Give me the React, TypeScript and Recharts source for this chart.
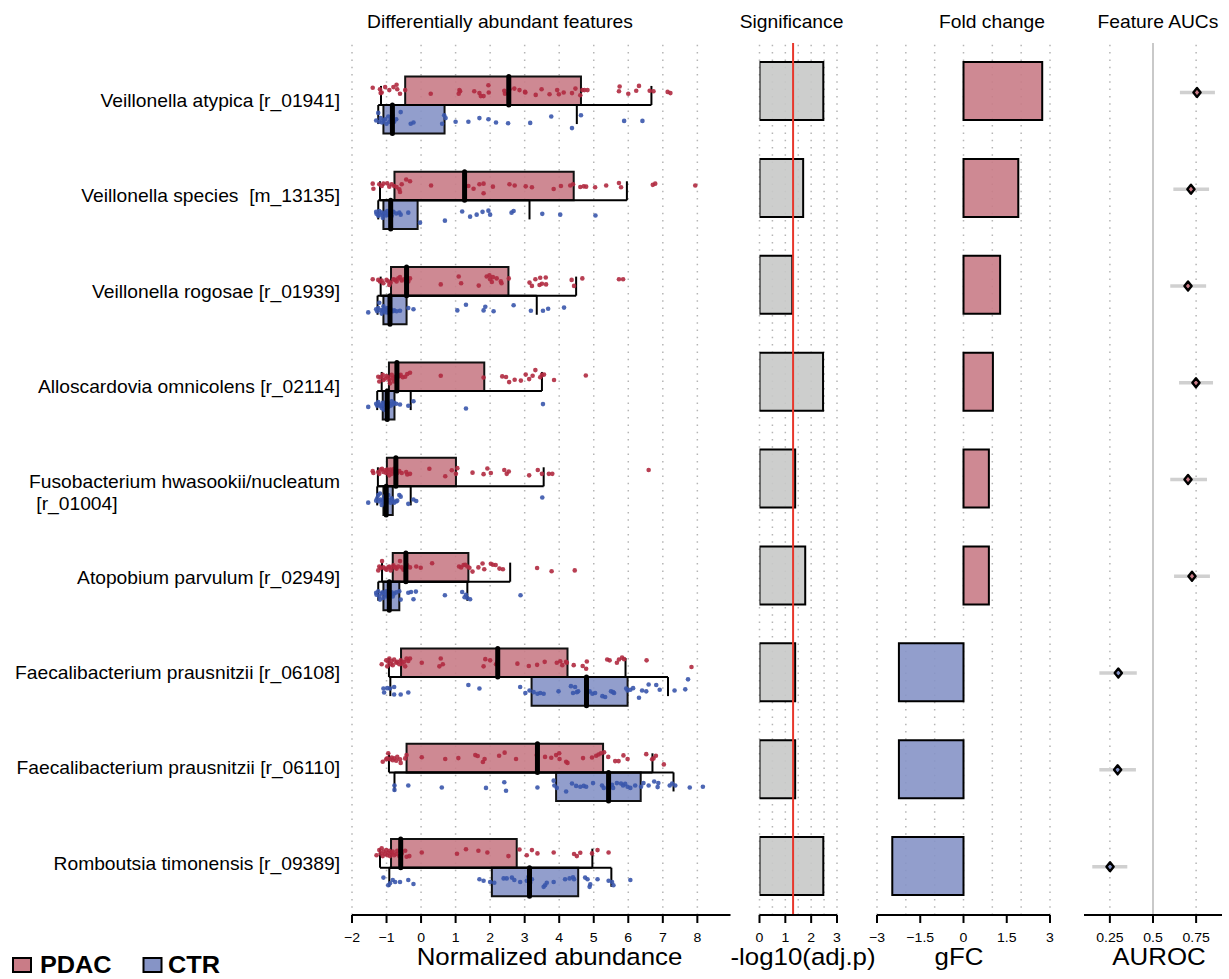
import React from 'react';
import { ScatterChart, Scatter, XAxis, YAxis, ReferenceArea, ReferenceLine, BarChart, Bar, Cell, ErrorBar } from 'recharts';

const W = 1229, H = 979;
const FONT = '"Liberation Sans", Arial, Helvetica, sans-serif';
const SX = 1.1;

const FEATURES = [
  'Veillonella atypica [r_01941]',
  'Veillonella species  [m_13135]',
  'Veillonella rogosae [r_01939]',
  'Alloscardovia omnicolens [r_02114]',
  'Fusobacterium hwasookii/nucleatum\n [r_01004]',
  'Atopobium parvulum [r_02949]',
  'Faecalibacterium prausnitzii [r_06108]',
  'Faecalibacterium prausnitzii [r_06110]',
  'Romboutsia timonensis [r_09389]',
];

// box stats: [q1, median, q3, whiskerLow, whiskerHigh]
const PDAC_BOX = [
  [-0.46, 2.54, 4.63, -1.16, 6.67],
  [-0.77, 1.26, 4.42, -1.19, 5.96],
  [-0.87, -0.42, 2.53, -1.17, 4.49],
  [-0.93, -0.70, 1.83, -1.14, 3.50],
  [-0.99, -0.73, 1.01, -1.25, 3.55],
  [-0.82, -0.44, 1.37, -1.13, 2.58],
  [-0.58, 2.22, 4.24, -0.93, 5.92],
  [-0.42, 3.37, 5.27, -0.93, 6.70],
  [-0.87, -0.59, 2.77, -1.19, 4.96],
];
const CTR_BOX = [
  [-1.09, -0.83, 0.68, -1.24, 4.51],
  [-1.09, -0.88, -0.10, -1.24, 3.14],
  [-1.09, -0.90, -0.42, -1.26, 3.35],
  [-1.11, -0.98, -0.77, -1.27, -0.30],
  [-1.09, -1.01, -0.82, -1.27, -0.30],
  [-1.09, -0.92, -0.63, -1.24, 1.34],
  [3.20, 4.79, 5.98, -0.89, 7.15],
  [3.91, 5.43, 6.36, -0.77, 7.31],
  [2.05, 3.14, 4.55, -0.92, 5.51],
];

// jittered samples: [abundance, jitter (-1..1)]
const PDAC_PTS = [
  [[-1.40,-0.5],[-1.19,-0.25],[-1.14,0.3],[-1.17,0.4],[-1.04,-0.6],[-0.92,-0.1],[-0.80,-0.6],[-0.71,-1],[-0.69,-0.25],[-0.61,0.5],[-0.46,-0.1],[0.28,0.5],[1.11,-0.1],[1.13,0.1],[1.09,0.5],[1.54,0.1],[1.69,0.4],[1.73,0.9],[1.81,0.9],[1.95,-0.9],[1.96,0.3],[2.41,0],[2.43,0.5],[2.56,-0.25],[2.70,-0.35],[2.85,-0.1],[3.01,0.2],[3.02,0.3],[3.32,0.7],[3.49,-0.25],[3.72,0.6],[3.94,-0.1],[3.99,0.6],[4.13,0.3],[4.37,0.4],[4.47,-0.35],[4.61,0.75],[4.67,-0.1],[4.73,-0.1],[4.82,-0.1],[5.75,-0.7],[5.73,0.1],[6.00,0.5],[6.23,0],[6.31,-0.8],[6.62,0],[6.73,0.1],[7.14,0.2],[7.22,0.4]],
  [[-1.40,-0.4],[-1.38,0.45],[-1.21,-0.3],[-1.14,0],[-1.09,-0.4],[-0.98,-0.45],[-0.92,0.1],[-0.85,-0.3],[-0.78,0],[-0.71,0.15],[-0.63,0.55],[-0.61,1],[-0.56,-0.3],[-0.43,-1.1],[-0.32,-0.8],[0.29,-0.1],[1.28,-0.1],[1.37,0],[1.52,0.45],[1.69,-0.3],[1.81,-0.4],[1.81,1.2],[2.08,0.1],[2.56,-0.3],[2.71,-0.1],[3.03,0.05],[3.21,0.2],[3.84,0.5],[4.05,0],[4.32,-0.1],[4.40,-0.3],[4.61,0.15],[4.71,0.05],[4.78,0.1],[5.04,0.2],[5.36,-0.1],[5.73,-0.5],[5.79,0.2],[6.71,-0.2],[6.78,-0.4],[7.94,-0.1]],
  [[-1.40,-0.35],[-1.24,-0.25],[-1.19,0],[-1.14,-0.15],[-1.09,0.3],[-1.00,-0.25],[-0.95,0],[-0.92,0.6],[-0.88,0.2],[-0.80,-0.35],[-0.75,-0.25],[-0.71,0],[-0.66,-0.5],[-0.61,-0.7],[-0.56,-0.15],[-0.49,-0.35],[-0.43,0.2],[-0.37,0],[-0.32,-0.5],[0.57,0.5],[1.09,-0.8],[1.16,0.3],[1.67,0.7],[1.90,-0.8],[1.98,-1],[2.00,-0.35],[2.08,-0.7],[2.05,0.1],[2.19,-0.5],[2.31,0],[2.33,0.3],[2.54,-0.5],[3.14,0.2],[3.21,0.75],[3.31,-0.35],[3.43,0.6],[3.45,-0.6],[3.50,0.4],[3.61,-0.65],[3.62,0.5],[4.36,-0.25],[4.43,0.75],[4.67,-0.5],[5.73,-0.35],[5.85,-0.35]],
  [[-1.24,0],[-1.21,0.8],[-1.17,0.1],[-1.11,-0.3],[-1.09,0.55],[-1.04,0.3],[-1.00,-0.1],[-0.95,0.1],[-0.92,0.55],[-0.90,1.1],[-0.85,-0.3],[-0.82,0.3],[-0.78,0.8],[-0.75,0],[-0.72,0.45],[-0.69,0.1],[-0.63,-0.1],[-0.59,-0.3],[-0.53,0.1],[-0.46,0],[-0.40,-0.45],[-0.32,-0.65],[0.57,-0.15],[1.81,0.15],[2.35,-0.05],[2.46,0.05],[2.55,0.9],[2.71,0.5],[2.89,0.65],[3.03,-0.35],[3.13,0.4],[3.23,-0.15],[3.31,-1.1],[3.45,0.1],[3.50,-0.3],[3.56,-0.35],[3.85,0.55],[4.77,-0.2]],
  [[-1.40,-0.15],[-1.38,0.15],[-1.24,0],[-1.21,0.3],[-1.17,-0.4],[-1.13,-0.55],[-1.09,0],[-1.04,-0.3],[-1.01,0.15],[-0.98,-0.4],[-0.95,0],[-0.92,0.55],[-0.88,-0.4],[-0.85,0.3],[-0.82,-0.15],[-0.78,-0.55],[-0.75,0],[-0.72,-0.4],[-0.69,0.15],[-0.63,-0.15],[-0.56,0.15],[-0.43,0],[-0.40,0.4],[-0.32,0.3],[0.24,-0.55],[0.70,0.7],[0.89,-0.3],[1.01,0.3],[1.05,-0.65],[1.49,0.1],[1.81,0.35],[1.92,-0.6],[2.02,0.15],[2.41,-0.35],[2.48,0.3],[2.54,-0.1],[3.13,0.55],[3.38,-0.35],[3.50,0.3],[3.70,0.3],[3.80,0.3],[6.59,-0.35]],
  [[-1.24,0.5],[-1.21,-0.15],[-1.17,0.1],[-1.13,-1.05],[-1.09,0],[-1.04,0.2],[-1.00,0.4],[-0.95,0],[-0.92,-0.15],[-0.88,0.5],[-0.85,0.05],[-0.80,-0.35],[-0.75,0],[-0.71,0.2],[-0.66,-0.15],[-0.61,-1.05],[-0.56,0],[-0.51,0.4],[-0.40,-0.35],[-0.32,0],[-0.14,-0.15],[-0.01,0.05],[0.32,-0.7],[1.10,-0.15],[1.16,0],[1.23,-0.4],[1.28,-0.45],[1.34,-0.15],[1.40,0.05],[1.49,0.7],[1.66,0],[1.78,-0.65],[1.83,0.3],[2.02,-0.6],[2.08,-0.45],[2.16,-0.4],[2.27,0.2],[2.37,0.3],[3.36,0.1],[3.78,0.65],[4.45,0.5]],
  [[-1.14,0.25],[-1.01,-0.4],[-0.98,0.6],[-0.95,-0.15],[-0.92,-0.7],[-0.88,0.25],[-0.85,-0.3],[-0.82,0.4],[-0.78,-0.55],[-0.72,0],[-0.69,-0.15],[-0.63,0.25],[-0.59,-0.4],[-0.56,0.15],[-0.49,-0.15],[-0.46,0.6],[-0.42,-0.7],[-0.37,-0.3],[-0.32,-0.7],[0.02,0],[0.53,0.6],[0.57,-0.7],[0.63,0.25],[1.81,0.6],[1.86,-0.6],[2.00,-0.4],[2.17,0.25],[2.21,-0.15],[2.79,0.15],[3.12,0.55],[3.36,0.35],[3.58,-0.15],[3.93,0],[4.03,-0.25],[4.09,0.4],[4.20,-0.15],[4.22,0],[4.42,0.4],[4.68,0.55],[4.78,1],[4.80,-0.2],[5.39,-0.55],[5.46,-0.4],[5.67,0],[5.73,-0.55],[5.82,-0.85],[5.88,-0.6],[6.53,-0.4],[7.83,0.7]],
  [[-1.11,0.6],[-1.01,0.2],[-0.98,0.05],[-0.95,-0.8],[-0.90,0.2],[-0.85,-0.1],[-0.82,0.35],[-0.78,0.05],[-0.72,0.45],[-0.69,-0.2],[-0.61,0.2],[-0.59,0.8],[-0.46,0.05],[-0.42,-0.5],[0.02,-0.15],[0.70,0.15],[1.08,0],[1.57,-0.5],[1.64,-0.35],[1.79,0.65],[1.84,0.15],[2.26,-0.4],[2.42,-0.9],[2.75,0.15],[3.35,-0.5],[3.59,-0.2],[3.77,-0.05],[3.91,-0.5],[4.00,-0.8],[4.01,0.15],[4.20,0.6],[4.24,0.8],[4.69,0],[4.95,-0.1],[5.07,-0.4],[5.14,-0.6],[5.21,-0.8],[5.30,-0.95],[5.42,-0.2],[5.62,0.5],[5.72,0.5],[5.86,-0.45],[5.98,0.15],[6.52,-0.65],[6.69,0.2],[6.73,0.05],[6.80,-0.4],[7.03,1.05]],
  [[-1.29,0.3],[-1.21,-0.55],[-1.17,0],[-1.14,-0.85],[-1.11,0.45],[-1.09,-0.3],[-1.04,0.1],[-1.01,-0.55],[-0.98,0.3],[-0.95,-0.1],[-0.92,-0.45],[-0.90,0.45],[-0.85,0],[-0.82,-0.3],[-0.78,0.3],[-0.72,0.1],[-0.69,-0.45],[-0.63,0.45],[-0.56,0],[-0.46,-0.45],[-0.42,0.55],[-0.34,0.45],[0.02,-0.15],[1.04,0.05],[1.30,-0.7],[1.66,-0.45],[1.92,-0.15],[2.53,0.45],[2.85,-0.65],[3.06,0.3],[3.21,-0.55],[3.37,0],[3.84,-0.15],[4.43,0.1],[4.51,0.45],[4.61,-0.1],[4.95,0],[5.11,-0.55],[5.43,-0.15]],
];
const CTR_PTS = [
  [[-1.30,0.15],[-1.24,-0.8],[-1.21,0.3],[-1.17,-0.15],[-1.13,0.4],[-1.09,0.15],[-1.04,0],[-1.00,0.55],[-0.95,-0.35],[-0.92,0.3],[-0.88,0.05],[-0.82,-0.45],[-0.78,0.3],[-0.72,0],[-0.59,-0.9],[-0.30,0.55],[-0.22,0.4],[0.61,0.55],[0.67,-0.5],[0.71,-0.15],[1.00,0.3],[1.37,0.3],[1.69,-0.15],[1.95,0],[2.17,0.4],[2.52,0.5],[3.16,0.45],[3.77,-0.35],[4.37,1.1],[4.63,-0.5],[5.88,0.2],[6.41,0.2]],
  [[-1.30,-0.35],[-1.29,-0.1],[-1.24,0.15],[-1.21,-0.45],[-1.19,0],[-1.14,-0.25],[-1.11,0.4],[-1.09,0],[-1.04,-0.25],[-1.01,0.1],[-0.98,-0.45],[-0.95,0],[-0.90,-0.25],[-0.85,0.15],[-0.80,-0.35],[-0.72,-0.15],[-0.63,-0.25],[-0.59,0],[-0.37,-0.25],[-0.03,1],[0.69,0.75],[1.19,-0.4],[1.42,0.25],[1.61,0],[1.78,-0.35],[1.95,-0.5],[2.00,0],[2.62,-0.25],[2.68,-0.45],[3.51,-0.1],[4.03,0],[5.05,0.1]],
  [[-1.53,0.3],[-1.30,-0.1],[-1.27,0.15],[-1.24,-0.25],[-1.21,-0.9],[-1.17,0.05],[-1.14,0.45],[-1.11,0],[-1.09,-0.45],[-1.07,0.15],[-1.04,-0.1],[-1.01,0.3],[-0.98,-0.25],[-0.95,0.05],[-0.92,0.4],[-0.88,-0.1],[-0.82,0.15],[-0.78,0.05],[-0.71,0.15],[-0.61,0.1],[-0.37,-0.25],[-0.22,-0.1],[1.05,0.05],[1.30,-0.65],[1.81,0.05],[1.86,-0.4],[2.10,0.15],[2.68,-0.6],[3.18,0.1],[3.53,0.1],[3.68,-0.15],[4.14,-0.3]],
  [[-1.53,0.2],[-1.30,-0.2],[-1.27,0.05],[-1.24,-0.4],[-1.21,-0.1],[-1.17,0.1],[-1.14,0.35],[-1.11,-0.3],[-1.09,-0.1],[-1.07,0.55],[-1.04,0.05],[-1.01,-0.4],[-0.98,-0.1],[-0.95,0.2],[-0.92,-0.2],[-0.88,0.05],[-0.85,-0.5],[-0.82,-0.1],[-0.78,-0.3],[-0.72,-0.2],[-0.61,-0.1],[-0.37,0.05],[-0.22,-0.5],[1.30,0.4],[3.53,-0.15]],
  [[-1.53,0.25],[-1.30,0],[-1.27,-0.3],[-1.24,-0.7],[-1.21,0.1],[-1.19,-0.9],[-1.17,-0.15],[-1.14,0.55],[-1.11,0],[-1.09,0.25],[-1.07,-0.5],[-1.04,-0.1],[-1.01,0.4],[-1.00,-0.3],[-0.98,0.1],[-0.95,-0.7],[-0.92,-0.1],[-0.88,0.25],[-0.85,-0.3],[-0.82,0],[-0.78,0.25],[-0.72,0.1],[-0.69,0],[-0.63,-0.7],[-0.59,-0.5],[-0.37,0.4],[-0.22,-0.15],[-0.14,0.05],[3.51,-0.4]],
  [[-1.30,-0.4],[-1.29,-0.15],[-1.24,-0.6],[-1.21,0.05],[-1.19,0.45],[-1.14,-0.3],[-1.11,-0.45],[-1.09,0.25],[-1.04,-0.15],[-1.01,-0.6],[-0.98,0.05],[-0.95,-0.4],[-0.92,0.45],[-0.88,-0.15],[-0.85,-0.45],[-0.82,0.05],[-0.78,-0.3],[-0.72,-0.45],[-0.63,-0.6],[-0.59,0.45],[-0.37,-0.4],[-0.29,-0.5],[-0.22,0.4],[-0.15,-0.55],[0.69,-0.1],[1.19,-0.5],[1.26,0.15],[1.30,-0.15],[1.34,0.25],[1.42,0.4],[2.88,-0.1]],
  [[-1.09,-0.35],[-1.07,0.15],[-0.98,-0.4],[-0.90,-0.35],[-0.78,-0.55],[-0.78,0.4],[-0.59,0.4],[-0.37,0.15],[1.37,-0.8],[1.69,-0.35],[2.87,-0.55],[3.02,0.2],[3.14,-0.1],[3.26,0.1],[3.37,0.3],[3.45,0.2],[3.55,0.3],[3.98,0],[4.34,-0.65],[4.40,0.2],[4.46,-0.55],[4.51,0.1],[4.55,0],[4.82,0.15],[4.88,0],[4.96,0.3],[5.04,0.2],[5.25,0.6],[5.33,0.7],[5.50,0],[5.56,0.1],[5.59,0.2],[5.94,-0.35],[5.98,-0.1],[6.06,-0.2],[6.14,-0.4],[6.31,0.8],[6.40,-0.1],[6.52,0],[6.59,-0.85],[6.81,-0.8],[6.91,-0.2],[7.34,-0.1],[7.65,-0.25],[7.73,-1.5]],
  [[-0.77,-0.15],[-0.77,0.4],[-0.37,-0.15],[0.60,0.1],[1.88,0.15],[2.41,-0.55],[2.46,0.5],[3.37,0.1],[3.84,-0.75],[3.86,-0.15],[3.93,0.15],[4.20,0.6],[4.37,-0.4],[4.49,-0.1],[4.61,0],[4.71,-0.1],[4.78,0],[4.98,-0.45],[5.24,-0.15],[5.29,0.15],[5.53,-0.25],[5.56,0.15],[5.67,-0.45],[5.79,-0.4],[5.85,-0.15],[5.91,-0.35],[5.98,0],[6.06,0.15],[6.20,-0.15],[6.37,0],[6.44,-0.45],[6.59,-0.15],[6.75,-0.65],[6.85,0.05],[6.87,-0.45],[7.20,-0.15],[7.27,-0.4],[7.36,-0.15],[7.78,0.1],[8.16,0]],
  [[-1.09,-0.55],[-0.95,0.4],[-0.90,0.15],[-0.82,-0.25],[-0.75,0],[-0.61,0],[-0.37,-0.25],[-0.22,0.25],[1.69,-0.35],[1.81,-0.15],[2.00,0],[2.12,0.1],[2.39,-0.45],[2.48,-0.45],[2.63,-0.55],[2.70,-0.25],[2.87,0],[3.06,-0.15],[3.11,-0.65],[3.16,0.1],[3.21,-0.35],[3.55,0.6],[3.59,0.4],[3.64,0.1],[3.84,0],[4.17,-0.35],[4.30,-0.45],[4.40,-0.6],[4.43,-0.35],[4.75,-0.55],[4.82,-0.35],[4.88,0.6],[4.90,0.3],[5.11,-0.35],[5.43,-0.15],[5.53,0],[5.57,0.4],[6.06,-0.25]],
];

const SIG = [2.47, 1.69, 1.27, 2.46, 1.38, 1.77, 1.38, 1.38, 2.47];
const FC = [2.73, 1.90, 1.27, 1.02, 0.88, 0.88, -2.24, -2.24, -2.47];
const AUC = [0.755, 0.720, 0.703, 0.749, 0.703, 0.726, 0.299, 0.295, 0.251];
const AUC_LO = [0.656, 0.618, 0.600, 0.651, 0.600, 0.622, 0.189, 0.189, 0.148];
const AUC_HI = [0.859, 0.825, 0.808, 0.848, 0.813, 0.830, 0.406, 0.401, 0.351];

const ABUND_TICKS = [-2, -1, 0, 1, 2, 3, 4, 5, 6, 7, 8];
const SIG_TICKS = [0, 1, 2, 3];
const SIG_GRID = [0, 0.5, 1, 1.5, 2, 2.5, 3];
const FC_TICKS = [-3, -1.5, 0, 1.5, 3];
const FC_GRID = [-3, -2, -1, 0, 1, 2, 3];
const AUC_TICKS = [0.25, 0.5, 0.75];
const SIG_CUTOFF = 1.3;

const PDAC_FILL = '#C97C87';
const CTR_FILL = '#8694C6';
const PDAC_PT = '#B02A40';
const CTR_PT = '#3A57AC';
const GRID = '#B5B5B5';
const FILL_OP = 0.9;

const PLOT_TOP = 43;
const PLOT_BOTTOM = 915;
const AXIS_H = 40;
const ROW_PX = 95.34;
const FIRST_ROW_Y = 105;

const BOX_H = 0.3;
const PDAC_JIT = 0.063;
const CTR_JIT = 0.084;

const ROWS = FEATURES.map((name, i) => ({ name, sig: SIG[i], fc: FC[i] }));
const pdacPoints = PDAC_PTS.flatMap((row, i) => row.map(([v, j]) => ({ x: v, y: i - BOX_H / 2 + j * PDAC_JIT })));
const ctrPoints = CTR_PTS.flatMap((row, i) => row.map(([v, j]) => ({ x: v, y: i + BOX_H / 2 + j * CTR_JIT })));
const aucPoints = AUC.map((a, i) => ({ x: a, y: i, err: [a - AUC_LO[i], AUC_HI[i] - a], up: FC[i] > 0 }));

const fmt = (v: number) => String(v).replace('-', '\u2212');

function SText({ x, y, size, anchor = 'middle', weight = 400, children }: any) {
  return (
    <text
      transform={`translate(${x},${y}) scale(${SX},1)`}
      fontSize={size}
      fontFamily={FONT}
      fontWeight={weight}
      textAnchor={anchor}
      fill="#000"
      style={{ whiteSpace: 'pre' }}
    >
      {children}
    </text>
  );
}

const TICK_SIZE = 12.8;
const xTick = (props: any) => (
  <SText x={props.x} y={props.y + 0.71 * TICK_SIZE} size={TICK_SIZE}>{fmt(props.payload.value)}</SText>
);

const labelTick = (props: any) => {
  const lines = FEATURES[props.payload.value].split('\n');
  if (lines.length === 1) {
    return <SText x={340} y={props.y + 2} size={17.5} anchor="end">{lines[0]}</SText>;
  }
  return (
    <g>
      <SText x={340} y={props.y + 1.3} size={17.5} anchor="end">{lines[0]}</SText>
      <SText x={31} y={props.y + 23.5} size={17.5} anchor="start">{lines[1]}</SText>
    </g>
  );
};

const axisStyle = { stroke: '#000', strokeWidth: 2 };

const dotShape = (color: string) => (p: any) => <circle cx={p.cx} cy={p.cy} r={2.3} fill={color} fillOpacity={0.9} />;

const diamond = (p: any) => {
  const { cx, cy, payload } = p;
  const pts = `${cx},${cy - 4.5} ${cx + 3.6},${cy} ${cx},${cy + 4.5} ${cx - 3.6},${cy}`;
  return <polygon points={pts} fill={payload.up ? PDAC_FILL : CTR_FILL} stroke="#000" strokeWidth={2.4} strokeLinejoin="round" />;
};

const gridLine = (t: number) => (
  <ReferenceLine key={`g${t}`} x={t} stroke={GRID} strokeWidth={1.5} strokeDasharray="1.5 5.8" zIndex={50} />
);

const chartStyle: React.CSSProperties = { position: 'absolute', left: 0, top: 0 };

function BoxPanel() {
  const plotRight = 730.5;
  const yDomain = [(PLOT_TOP - FIRST_ROW_Y) / ROW_PX, (PLOT_BOTTOM - FIRST_ROW_Y) / ROW_PX];
  const groups = [
    { box: PDAC_BOX, fill: PDAC_FILL, dir: -1 },
    { box: CTR_BOX, fill: CTR_FILL, dir: 1 },
  ];
  return (
    <div style={chartStyle}>
      <ScatterChart width={W} height={H} margin={{ top: PLOT_TOP, right: W - plotRight, bottom: H - PLOT_BOTTOM - AXIS_H, left: 0 }}>
        <XAxis type="number" dataKey="x" domain={[-2, 8.96]} ticks={ABUND_TICKS} allowDataOverflow height={AXIS_H}
          axisLine={axisStyle} tickLine={axisStyle} tickSize={8} tickMargin={10} tick={xTick} interval={0} />
        <YAxis type="number" dataKey="y" domain={yDomain} reversed allowDataOverflow width={352}
          ticks={FEATURES.map((_, i) => i)} interval={0} axisLine={false} tickLine={false} tick={labelTick} />
        {ABUND_TICKS.map(gridLine)}
        {groups.map((g, gi) => g.box.map((b, i) => (
          <ReferenceArea key={`box${gi}-${i}`} x1={b[0]} x2={b[2]}
            y1={g.dir < 0 ? i - BOX_H : i} y2={g.dir < 0 ? i : i + BOX_H}
            fill={g.fill} fillOpacity={FILL_OP} stroke="#111" strokeWidth={2} zIndex={100} />
        )))}
        {groups.map((g, gi) => g.box.map((b, i) => (
          <ReferenceLine key={`wh${gi}-${i}`} segment={[{ x: b[3], y: i }, { x: b[4], y: i }]}
            stroke="#000" strokeWidth={2} zIndex={150} />
        )))}
        {groups.map((g, gi) => g.box.map((b, i) => (
          <ReferenceLine key={`wl${gi}-${i}`} segment={[{ x: b[3], y: i }, { x: b[3], y: i + g.dir * 0.2 }]}
            stroke="#000" strokeWidth={2} zIndex={150} />
        )))}
        {groups.map((g, gi) => g.box.map((b, i) => (
          <ReferenceLine key={`wu${gi}-${i}`} segment={[{ x: b[4], y: i }, { x: b[4], y: i + g.dir * 0.2 }]}
            stroke="#000" strokeWidth={2} zIndex={150} />
        )))}
        <Scatter data={pdacPoints} shape={dotShape(PDAC_PT)} isAnimationActive={false} zIndex={600} />
        <Scatter data={ctrPoints} shape={dotShape(CTR_PT)} isAnimationActive={false} zIndex={600} />
        {groups.map((g, gi) => g.box.map((b, i) => (
          <ReferenceLine key={`md${gi}-${i}`}
            segment={[{ x: b[1], y: g.dir < 0 ? i - BOX_H : i }, { x: b[1], y: g.dir < 0 ? i : i + BOX_H }]}
            stroke="#000" strokeWidth={5} strokeLinecap="round" zIndex={700} />
        )))}
      </ScatterChart>
    </div>
  );
}

function SigPanel() {
  const left = 759.5, right = 837;
  return (
    <div style={chartStyle}>
      <BarChart layout="vertical" width={W} height={H} data={ROWS}
        margin={{ top: PLOT_TOP, right: W - right, bottom: H - PLOT_BOTTOM - AXIS_H, left }}>
        <XAxis type="number" domain={[0, 3]} ticks={SIG_TICKS} allowDataOverflow height={AXIS_H}
          axisLine={axisStyle} tickLine={axisStyle} tickSize={8} tickMargin={10} tick={xTick} interval={0} />
        <YAxis type="category" dataKey="name" hide />
        {SIG_GRID.map(gridLine)}
        <Bar dataKey="sig" fill="#C8C9C8" fillOpacity={FILL_OP} stroke="#000" strokeWidth={2} barSize={58} isAnimationActive={false} zIndex={300} />
        <ReferenceLine x={SIG_CUTOFF} stroke="#E8372C" strokeWidth={2} zIndex={450} />
      </BarChart>
    </div>
  );
}

function FcPanel() {
  const left = 877, right = 1050;
  return (
    <div style={chartStyle}>
      <BarChart layout="vertical" width={W} height={H} data={ROWS}
        margin={{ top: PLOT_TOP, right: W - right, bottom: H - PLOT_BOTTOM - AXIS_H, left }}>
        <XAxis type="number" domain={[-3, 3]} ticks={FC_TICKS} allowDataOverflow height={AXIS_H}
          axisLine={axisStyle} tickLine={axisStyle} tickSize={8} tickMargin={10} tick={xTick} interval={0} />
        <YAxis type="category" dataKey="name" hide />
        {FC_GRID.map(gridLine)}
        <Bar dataKey="fc" stroke="#000" strokeWidth={2} barSize={58} fillOpacity={FILL_OP} isAnimationActive={false} zIndex={300}>
          {ROWS.map((r, i) => <Cell key={i} fill={r.fc > 0 ? PDAC_FILL : CTR_FILL} />)}
        </Bar>
      </BarChart>
    </div>
  );
}

function AucPanel() {
  const left = 1084, right = 1222;
  const rowPx = (PLOT_BOTTOM - PLOT_TOP) / 9.01;
  const firstY = 92.4;
  const yDomain = [(PLOT_TOP - firstY) / rowPx, (PLOT_BOTTOM - firstY) / rowPx];
  return (
    <div style={chartStyle}>
      <ScatterChart width={W} height={H}
        margin={{ top: PLOT_TOP, right: W - right, bottom: H - PLOT_BOTTOM - AXIS_H, left }}>
        <XAxis type="number" dataKey="x" domain={[0.1, 0.9]} ticks={AUC_TICKS} allowDataOverflow height={AXIS_H}
          axisLine={axisStyle} tickLine={axisStyle} tickSize={8} tickMargin={10} tick={xTick} interval={0} />
        <YAxis type="number" dataKey="y" domain={yDomain} reversed allowDataOverflow hide />
        {gridLine(0.25)}
        {gridLine(0.75)}
        <ReferenceLine x={0.5} stroke="#C9C9C9" strokeWidth={2} zIndex={60} />
        <Scatter data={aucPoints} shape={diamond} isAnimationActive={false} zIndex={600}>
          <ErrorBar dataKey="err" direction="x" width={0} stroke="#D0D0D0" strokeWidth={3.5} isAnimationActive={false} />
        </Scatter>
      </ScatterChart>
    </div>
  );
}

function Overlay() {
  return (
    <svg width={W} height={H} style={{ position: 'absolute', left: 0, top: 0, pointerEvents: 'none' }}>
      <SText x={500} y={27.5} size={17.5}>Differentially abundant features</SText>
      <SText x={791.5} y={27.5} size={17.5}>Significance</SText>
      <SText x={992} y={27.5} size={17.5}>Fold change</SText>
      <SText x={1158} y={27.5} size={17.5}>Feature AUCs</SText>
      <SText x={549.5} y={965} size={23.5}>Normalized abundance</SText>
      <SText x={803} y={965} size={23.5}>-log10(adj.p)</SText>
      <SText x={959} y={965} size={23.5}>gFC</SText>
      <SText x={1159} y={965} size={23.5}>AUROC</SText>
      <rect x={13} y={958} width={18} height={14} fill={PDAC_FILL} stroke="#000" strokeWidth={2} />
      <SText x={40} y={973} size={23} anchor="start" weight={700}>PDAC</SText>
      <rect x={143.5} y={958} width={18} height={14} fill={CTR_FILL} stroke="#000" strokeWidth={2} />
      <SText x={168} y={973} size={23} anchor="start" weight={700}>CTR</SText>
    </svg>
  );
}

export default function App() {
  return (
    <div style={{ position: 'absolute', left: 0, top: 0, width: W, height: H, background: '#fff', overflow: 'hidden' }}>
      <BoxPanel />
      <SigPanel />
      <FcPanel />
      <AucPanel />
      <Overlay />
    </div>
  );
}
